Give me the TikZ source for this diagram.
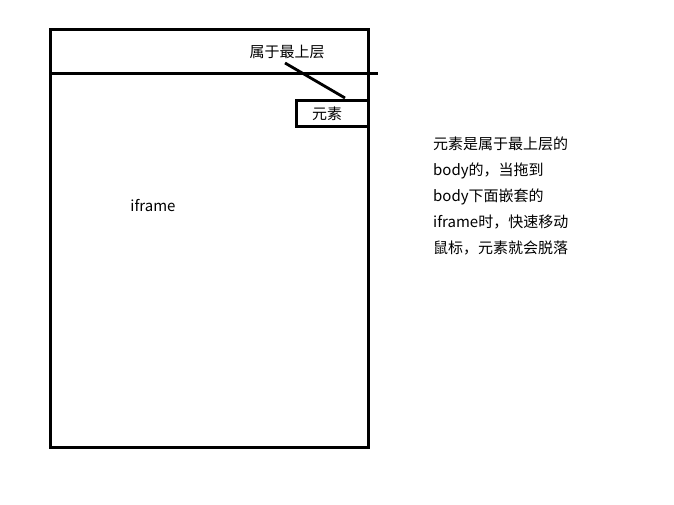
\documentclass[tikz,border=0pt]{standalone}
\usepackage{fontspec}
\setmainfont{Noto Sans CJK SC}
\usetikzlibrary{positioning}
\tikzset{
	thick line/.style={line width=3pt, color=black},
	label text/.style={inner sep=0pt, font=\fontsize{15}{26}\selectfont}
}

\begin{document}
\begin{tikzpicture}[x=1pt, y=-1pt]
		%%%%% START %%%%%
		\useasboundingbox (0, 0) rectangle (674, 505);
		
		\draw[thick line] (50, 30) rectangle (368, 447);
		\draw[thick line] (49, 74) -- (378, 74);
		
		\node[label text] (top) at (287, 52) {属于最上层};
		\draw[thick line] (296, 101) rectangle (368, 127);
		\node[label text] (elem) at (327, 114) {元素};
		
		\coordinate (pin) at (285, 63);
		\coordinate (hit) at (345, 98);
		\draw[line width=2.8pt] (pin) -- (hit);
		
		\node[label text] (frame) at (153, 206) {iframe};
		
		\node[label text, align=left, anchor=north west] (note) at (433, 137) {元素是属于最上层的\\body的，当拖到\\body下面嵌套的\\iframe时，快速移动\\鼠标，元素就会脱落};
		
		%%%%% END %%%%%
	\end{tikzpicture}
\end{document}
